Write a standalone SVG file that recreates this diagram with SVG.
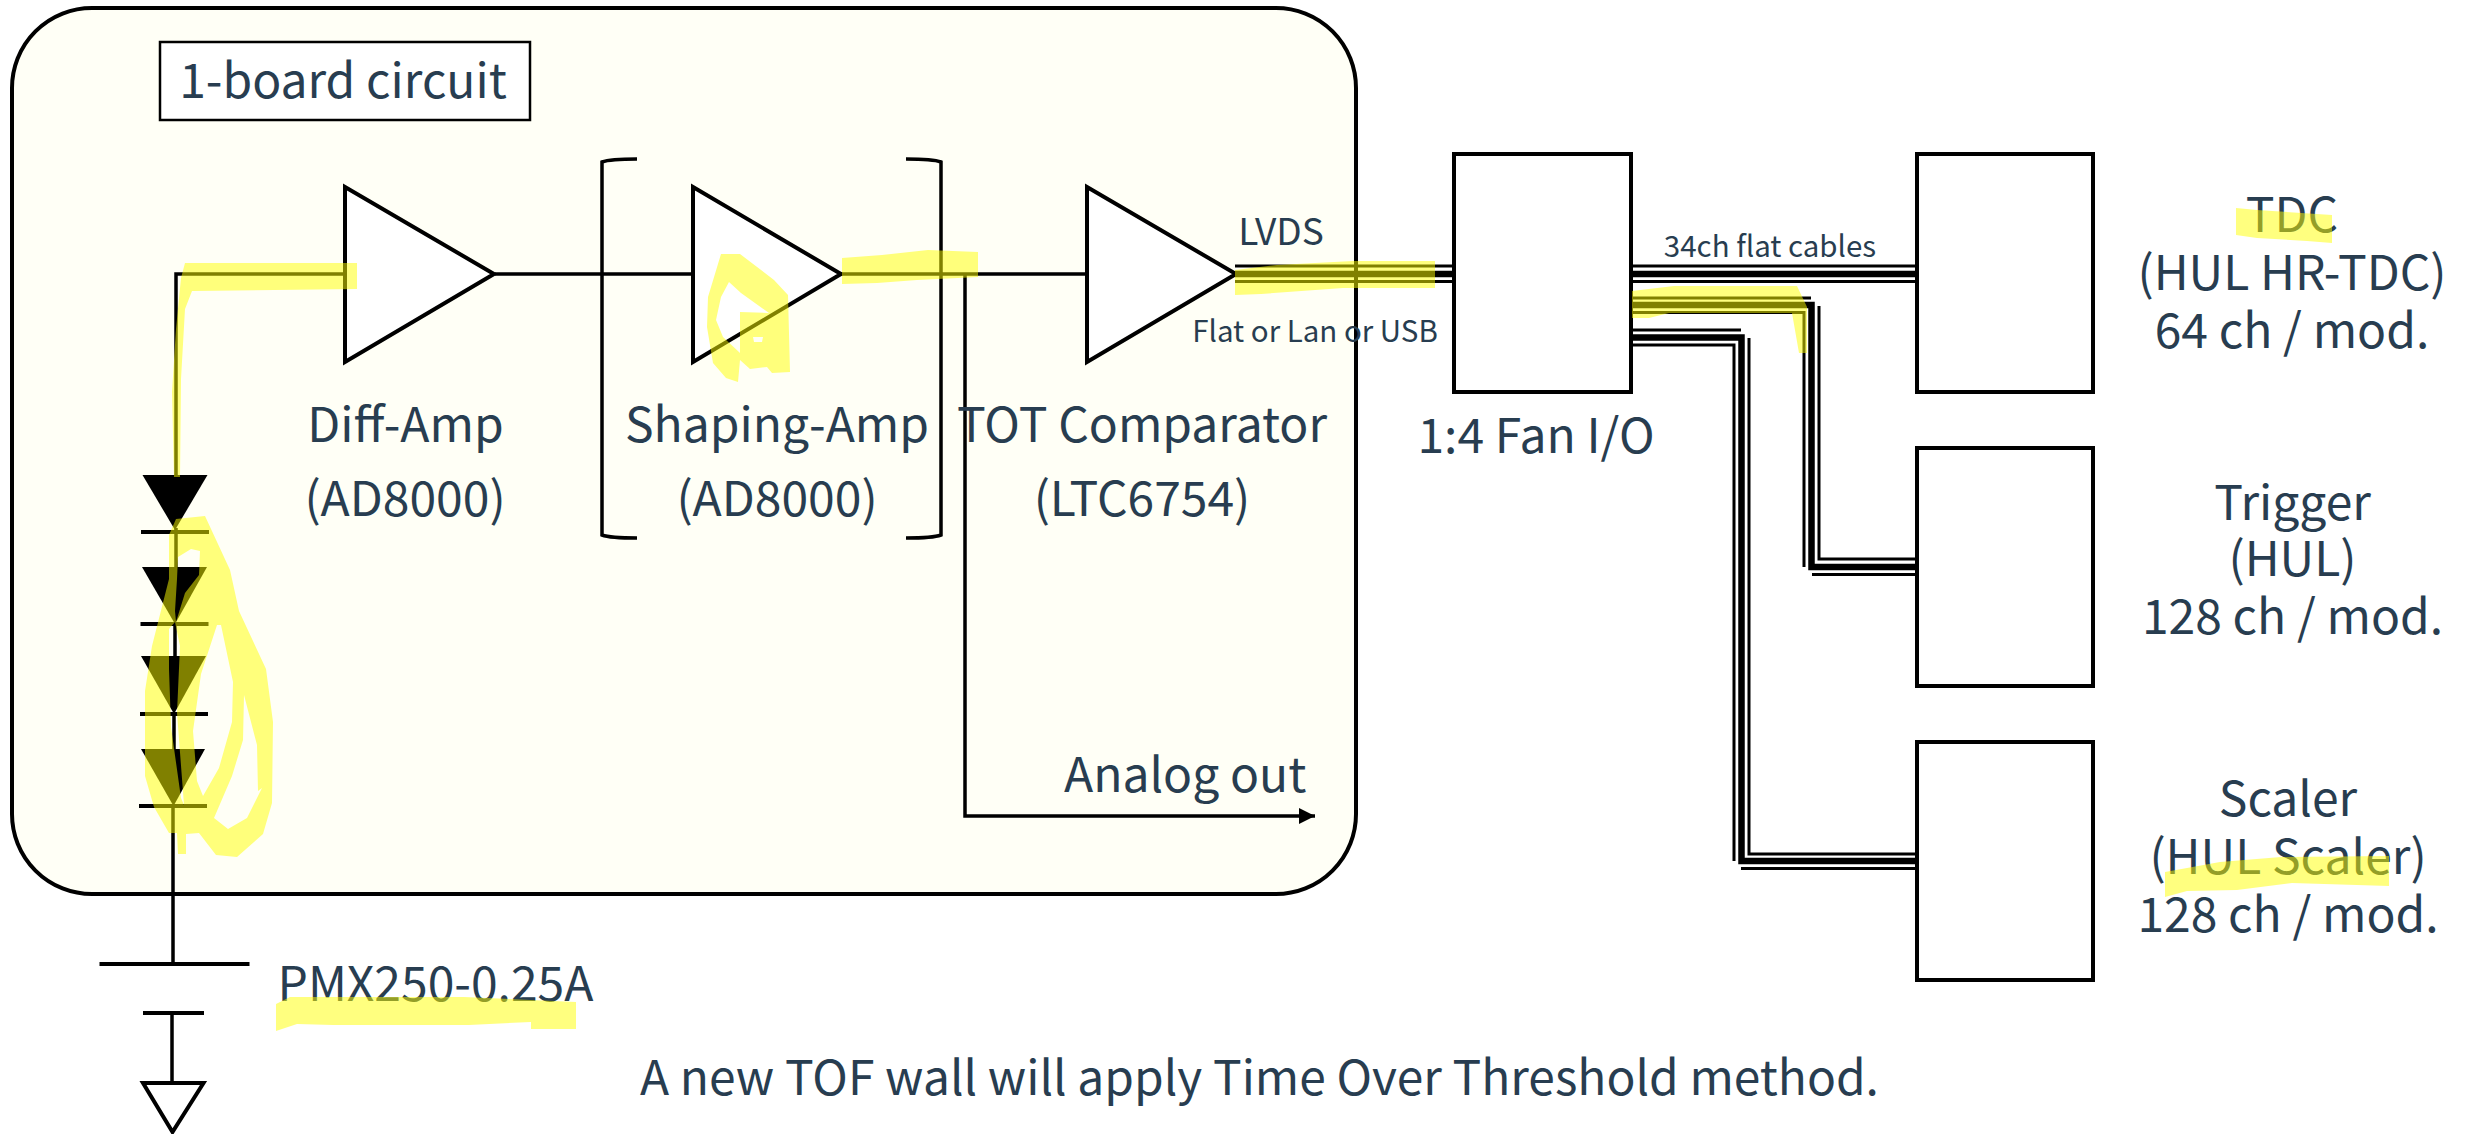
<svg xmlns="http://www.w3.org/2000/svg" width="2468" height="1134" viewBox="0 0 2468 1134">
<defs>
<marker id="arrow" markerUnits="userSpaceOnUse" markerWidth="18" markerHeight="18" refX="16" refY="8" orient="auto"><path d="M0,0L16,8L0,16Z" fill="#000"/></marker>
</defs>
<style>
text{font-family:"Noto Sans CJK JP","Noto Sans",sans-serif;fill:#283d50;font-size:48px}
.mid{text-anchor:middle}
.sm{font-size:37px}
.xs{font-size:29.5px}
.box{fill:#fff;stroke:#000;stroke-width:4}
.amp{fill:#fff;stroke:#000;stroke-width:4;stroke-linejoin:miter}
.w{fill:none;stroke:#000;stroke-width:3.5}
.t{fill:none;stroke:#000;stroke-width:3}
.k{fill:none;stroke:#000;stroke-width:6.5}
.d{fill:#000}
.bar{stroke:#000;stroke-width:4}
.hl{fill:#ffff00;fill-opacity:.5;fill-rule:evenodd;stroke:none}
</style>
<rect width="2468" height="1134" fill="#fff"/>
<g id="board"><rect x="12" y="8" width="1344" height="886" rx="80" ry="80" fill="#fffff6" stroke="#000" stroke-width="4"/></g>
<g id="board-label"><rect x="160" y="42" width="370" height="78" fill="#fff" stroke="#000" stroke-width="2.5"/><text x="343" y="98" class="mid">1-board circuit</text></g>
<g id="connectors">
<path class="w" d="M345,274H176V475"/>
<path class="w" d="M176,528V567M175,622V656M174,712V749M173,804V964M172,1013V1083"/>
<path class="w" d="M495,274H693M841,274H1087"/>
<path class="w" d="M965,274V816H1315" marker-end="url(#arrow)"/>
<path class="t" d="M1235,266H1453M1235,281.5H1453"/><path class="k" d="M1235,274H1453"/>
<path class="t" d="M1631,266H1917M1631,281.5H1917"/><path class="k" d="M1631,274H1917"/>
<path class="t" d="M1631,298H1811M1631,312.5H1804V567M1819,306V559H1917M1812,574.5H1917"/><path class="k" d="M1631,305H1811.5V567H1917"/>
<path class="t" d="M1631,330H1741M1631,345H1734V861M1749,338V854H1917M1741,868.5H1917"/><path class="k" d="M1631,337.5H1741.5V861H1917"/>
</g>
<g id="diff-amp"><polygon class="amp" points="345,187 494,274 345,362"/><text x="405.5" y="442" class="mid">Diff-Amp</text><text x="405" y="516" class="mid">(AD8000)</text></g>
<g id="shaping-bracket"><path class="w" stroke-width="4" d="M637,159Q610,159 602,162V535Q610,538 637,538M906,159Q933,159 941,162V535Q933,538 906,538"/></g>
<g id="shaping-amp"><polygon class="amp" points="693,187 841,274 693,362"/><text x="777" y="442" class="mid">Shaping-Amp</text><text x="777" y="516" class="mid">(AD8000)</text></g>
<g id="tot-comparator"><polygon class="amp" points="1087,187 1236,274 1087,362"/><text x="1142" y="442" class="mid">TOT Comparator</text><text x="1142" y="516" class="mid">(LTC6754)</text></g>
<g id="lvds-label"><text x="1281" y="245" class="mid sm">LVDS</text><text x="1315" y="342" class="mid xs">Flat or Lan or USB</text></g>
<g id="sipm">
<polygon class="d" points="142.5,475 207.5,475 175,530"/><line class="bar" x1="141" y1="532" x2="209" y2="532"/>
<polygon class="d" points="142,567 207,567 175,624"/><line class="bar" x1="140.5" y1="624" x2="208.5" y2="624"/>
<polygon class="d" points="141,656 206,656 174,714"/><line class="bar" x1="140" y1="714" x2="208" y2="714"/>
<polygon class="d" points="141,749 205,749 173.5,806"/><line class="bar" x1="139" y1="806" x2="207" y2="806"/>
</g>
<g id="battery"><line class="bar" x1="99.5" y1="964" x2="249.5" y2="964"/><line class="bar" x1="143" y1="1013" x2="204" y2="1013"/><text x="277.5" y="1001">PMX250-0.25A</text></g>
<g id="ground"><polygon points="143,1083 203.5,1083 172.5,1132" fill="#fff" stroke="#000" stroke-width="4"/></g>
<g id="analog-out"><text x="1064" y="792">Analog out</text></g>
<g id="fan-io"><rect class="box" x="1454" y="154" width="177" height="238"/><text x="1536" y="453" class="mid">1:4 Fan I/O</text></g>
<g id="flat-label"><text x="1770" y="257" class="mid xs">34ch flat cables</text></g>
<g id="tdc"><rect class="box" x="1917" y="154" width="176" height="238"/><text x="2292" y="232" class="mid">TDC</text><text x="2292" y="290" class="mid">(HUL HR-TDC)</text><text x="2292" y="348" class="mid">64 ch / mod.</text></g>
<g id="trigger"><rect class="box" x="1917" y="448" width="176" height="238"/><text x="2292.5" y="519.5" class="mid">Trigger</text><text x="2292.5" y="576" class="mid">(HUL)</text><text x="2292.5" y="634" class="mid">128 ch / mod.</text></g>
<g id="scaler"><rect class="box" x="1917" y="742" width="176" height="238"/><text x="2288" y="816" class="mid">Scaler</text><text x="2288" y="874" class="mid">(HUL Scaler)</text><text x="2288" y="932" class="mid">128 ch / mod.</text></g>
<text x="640" y="1095" style="font-size:47.9px">A new TOF wall will apply Time Over Threshold method.</text>
<g id="highlights">
<polygon class="hl" points="185,263 357,263 357,289 192,291 185,309 181,379 180,477 174,477 172,392 176,329 181,278"/>
<path class="hl" d="M176,519L205,516L230,570L239,611L266,669L273,722L272,803L263,834L237,857L216,855L199,833L186,834L186,854L178,854L177,833L169,833L154,807L145,776L145,691L152,646L169,579L169,535Z
M178,557L191,549L200,551L199,575L185,593L176,622L175,611L177,579Z
M169,629L175,622L180,646L177,713L184,805L181,798L171,727L169,669Z
M217,625L221,625L233,682L232,722L219,768L203,796L197,781L193,731L201,674Z
M244,695L243,740L232,776L214,818L228,829L247,818L262,788L258,791L257,745Z"/>
<path class="hl" d="M721,254L740,254L774,280L788,295L790,372L772,373L767,367L750,369L740,360L738,382L726,378L713,363L707,327L708,297Z
M729,282L741,293L769,313L740,312L740,353L723,337L716,320L721,297Z
M753,337L763,337L762,342L754,342Z"/>
<polygon class="hl" points="842,258 882,255 928,250 978,252 978,277 917,280 877,283 842,284"/>
<polygon class="hl" points="1235,270 1277,265 1353,261 1435,261 1435,288 1343,288 1261,294 1235,295"/>
<polygon class="hl" points="1632,291 1674,286 1797,286 1807,307 1807,353 1799,353 1792,313 1669,313 1649,318 1632,318"/>
<polygon class="hl" points="276,1004 290,997 464,997 576,1002 576,1029 531,1029 531,1022 469,1025 333,1025 297,1024 276,1031"/>
<polygon class="hl" points="2236,208 2257,210 2332,215 2332,243 2307,241 2257,238 2236,235"/>
<polygon class="hl" points="2165,872 2220,862 2281,857 2389,856 2389,886 2292,883 2237,890 2187,891 2165,897"/>
</g>
</svg>
